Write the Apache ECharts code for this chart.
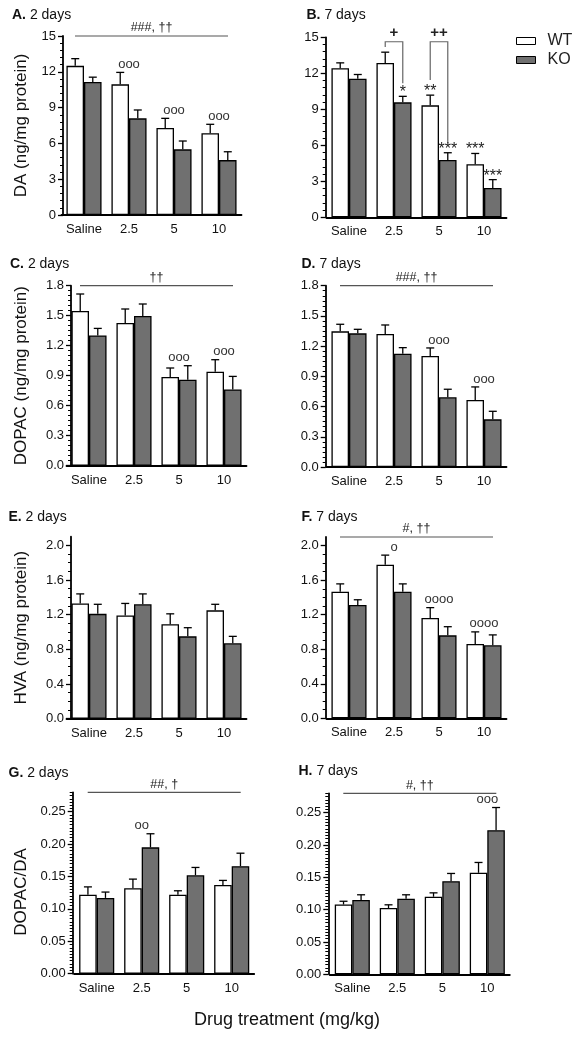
<!DOCTYPE html>
<html><head><meta charset="utf-8">
<script src="https://cdn.jsdelivr.net/npm/echarts@6/dist/echarts.min.js"></script>
<style>html,body{margin:0;padding:0;background:#fff}#c{width:574px;height:1040px}</style>
</head><body><div id="c"></div>
<script>
// ---------- data ----------
const categories = ['Saline', '2.5', '5', '10'];
const groupNames = ['WT', 'KO'];

// A. DA, 2 days
const daWT2 = [12.5, 10.95, 7.3, 6.85];
const daWT2Err = [0.6, 1.0, 0.8, 0.75];
const daKO2 = [11.15, 8.1, 5.5, 4.6];
const daKO2Err = [0.4, 0.7, 0.7, 0.7];
// B. DA, 7 days
const daWT7 = [12.42, 12.86, 9.33, 4.42];
const daWT7Err = [0.45, 0.9, 0.85, 0.9];
const daKO7 = [11.55, 9.58, 4.78, 2.44];
const daKO7Err = [0.35, 0.5, 0.6, 0.7];
// C. DOPAC, 2 days
const dopacWT2 = [1.547, 1.427, 0.887, 0.94];
const dopacWT2Err = [0.17, 0.14, 0.09, 0.12];
const dopacKO2 = [1.303, 1.497, 0.86, 0.763];
const dopacKO2Err = [0.07, 0.12, 0.14, 0.13];
// D. DOPAC, 7 days
const dopacWT7 = [1.347, 1.32, 1.102, 0.665];
const dopacWT7Err = [0.07, 0.09, 0.08, 0.13];
const dopacKO7 = [1.327, 1.125, 0.692, 0.473];
const dopacKO7Err = [0.04, 0.06, 0.08, 0.08];
// E. HVA, 2 days
const hvaWT2 = [1.33, 1.19, 1.09, 1.25];
const hvaWT2Err = [0.11, 0.14, 0.12, 0.07];
const hvaKO2 = [1.21, 1.32, 0.95, 0.87];
const hvaKO2Err = [0.11, 0.12, 0.10, 0.08];
// F. HVA, 7 days
const hvaWT7 = [1.467, 1.78, 1.162, 0.861];
const hvaWT7Err = [0.09, 0.11, 0.12, 0.14];
const hvaKO7 = [1.313, 1.467, 0.961, 0.846];
const hvaKO7Err = [0.06, 0.09, 0.10, 0.12];
// G. DOPAC/DA, 2 days
const ratioWT2 = [0.122, 0.132, 0.122, 0.137];
const ratioWT2Err = [0.012, 0.014, 0.006, 0.007];
const ratioKO2 = [0.117, 0.195, 0.152, 0.166];
const ratioKO2Err = [0.009, 0.021, 0.012, 0.020];
// H. DOPAC/DA, 7 days
const ratioWT7 = [0.108, 0.1025, 0.120, 0.157];
const ratioWT7Err = [0.005, 0.005, 0.006, 0.016];
const ratioKO7 = [0.115, 0.117, 0.144, 0.223];
const ratioKO7Err = [0.008, 0.006, 0.012, 0.035];

// tick labels
const ticksDA = [0, 3, 6, 9, 12, 15];
const ticksDOPAC = [0, 0.3, 0.6, 0.9, 1.2, 1.5, 1.8];
const ticksHVA = [0, 0.4, 0.8, 1.2, 1.6, 2.0];
const ticksRatio = [0, 0.05, 0.10, 0.15, 0.20, 0.25];

// annotations
const circlesA = ['', 'ooo', 'ooo', 'ooo'];
const circlesC = ['', '', 'ooo', 'ooo'];
const circlesD = ['', '', 'ooo', 'ooo'];
const circlesF = ['', 'o', 'oooo', 'oooo'];
const circlesG = ['', 'oo', '', ''];
const circlesH = ['', '', '', 'ooo'];
const starsWT7 = ['', '', '**', '***'];
const starsKO7 = ['', '*', '***', '***'];
const bracketLabels = ['+', '++'];
const bracketCats = [1, 2];
const bracketTop = [14.63, 14.63];
const bracketLeftEnd = [14.2, 11.44];
const bracketRightEnd = [11.17, 6.17];
const topNotes = ['###, ††', '', '††', '###, ††', '', '#, ††', '##, †', '#, ††'];

// ---------- layout ----------
const FONT = '"Liberation Sans", Arial, Helvetica, sans-serif';
const CAT_GAP = 0.22;
const CAP = 4;

const panels = [
  {letter: 'A.', days: '2 days', name: 'DA (ng/mg protein)', wt: daWT2, wtErr: daWT2Err, ko: daKO2, koErr: daKO2Err,
   ticks: ticksDA, max: 15, interval: 3, minor: 5, dec: 0, left: 61.5, top: 36, height: 179, axisX: 63, nameGap: 33,
   circles: circlesA, note: topNotes[0], tx: 12, ty: 8},
  {letter: 'B.', days: '7 days', name: '', wt: daWT7, wtErr: daWT7Err, ko: daKO7, koErr: daKO7Err,
   ticks: ticksDA, max: 15, interval: 3, minor: 5, dec: 0, left: 326.5, top: 37.3, height: 180, axisX: 325.7, nameGap: 30,
   starsWT: starsWT7, starsKO: starsKO7, brackets: true, note: topNotes[1], tx: 306.5, ty: 8},
  {letter: 'C.', days: '2 days', name: 'DOPAC (ng/mg protein)', wt: dopacWT2, wtErr: dopacWT2Err, ko: dopacKO2, koErr: dopacKO2Err,
   ticks: ticksDOPAC, max: 1.8, interval: 0.3, minor: 6, dec: 1, left: 66.5, top: 285.7, height: 180, axisX: 71, nameGap: 41,
   circles: circlesC, note: topNotes[2], tx: 10, ty: 257},
  {letter: 'D.', days: '7 days', name: '', wt: dopacWT7, wtErr: dopacWT7Err, ko: dopacKO7, koErr: dopacKO7Err,
   ticks: ticksDOPAC, max: 1.8, interval: 0.3, minor: 6, dec: 1, left: 326.5, top: 285.7, height: 181.3, axisX: 325.7, nameGap: 30,
   circles: circlesD, note: topNotes[3], tx: 301.5, ty: 257},
  {letter: 'E.', days: '2 days', name: 'HVA (ng/mg protein)', wt: hvaWT2, wtErr: hvaWT2Err, ko: hvaKO2, koErr: hvaKO2Err,
   ticks: ticksHVA, max: 2.1, interval: 0.4, minor: 4, dec: 1, left: 66.5, top: 536.7, height: 182, axisX: 71, nameGap: 41,
   note: topNotes[4], tx: 8.5, ty: 510},
  {letter: 'F.', days: '7 days', name: '', wt: hvaWT7, wtErr: hvaWT7Err, ko: hvaKO7, koErr: hvaKO7Err,
   ticks: ticksHVA, max: 2.1, interval: 0.4, minor: 4, dec: 1, left: 326.5, top: 537, height: 181.3, axisX: 325.7, nameGap: 30,
   circles: circlesF, note: topNotes[5], tx: 301.5, ty: 510},
  {letter: 'G.', days: '2 days', name: 'DOPAC/DA', wt: ratioWT2, wtErr: ratioWT2Err, ko: ratioKO2, koErr: ratioKO2Err,
   ticks: ticksRatio, max: 0.28, interval: 0.05, minor: 10, dec: 2, left: 74.2, top: 792.3, height: 181.4, axisX: 72.7, nameGap: 43,
   namePad: [0, 18, 0, 0], circles: circlesG, note: topNotes[6], tx: 8.5, ty: 766},
  {letter: 'H.', days: '7 days', name: '', wt: ratioWT7, wtErr: ratioWT7Err, ko: ratioKO7, koErr: ratioKO7Err,
   ticks: ticksRatio, max: 0.28, interval: 0.05, minor: 10, dec: 2, left: 329.8, top: 793.3, height: 181, axisX: 328.3, nameGap: 30,
   circles: circlesH, note: topNotes[7], tx: 298.5, ty: 764}
];

function makeRender(p) {
  return function (params, api) {
    const i = api.value(0);
    const wt = api.value(1), wtE = api.value(2), ko = api.value(3), koE = api.value(4);
    const base = api.coord([i, 0]);
    const band = api.size([1, 0])[0];
    const bw = band * (1 - CAT_GAP) / 2;
    const xw = base[0] - bw / 2, xk = base[0] + bw / 2;
    const yw0 = api.coord([i, wt])[1], yw1 = api.coord([i, wt + wtE])[1];
    const yk0 = api.coord([i, ko])[1], yk1 = api.coord([i, ko + koE])[1];
    const ls = {stroke: '#000', lineWidth: 1.3};
    const ch = [
      {type: 'line', shape: {x1: xw, y1: yw0, x2: xw, y2: yw1}, style: ls},
      {type: 'line', shape: {x1: xw - CAP, y1: yw1, x2: xw + CAP, y2: yw1}, style: ls},
      {type: 'line', shape: {x1: xk, y1: yk0, x2: xk, y2: yk1}, style: ls},
      {type: 'line', shape: {x1: xk - CAP, y1: yk1, x2: xk + CAP, y2: yk1}, style: ls}
    ];
    const circ = p.circles ? p.circles[i] : '';
    if (circ) {
      ch.push({type: 'text', x: base[0], y: Math.min(yw1, yk1) - 8,
        style: {text: circ, fontSize: 13, fontFamily: FONT, fill: '#333', align: 'center', verticalAlign: 'middle'}});
    }
    if (p.starsWT && p.starsWT[i]) {
      ch.push({type: 'text', x: xw, y: yw1 - 3.5,
        style: {text: p.starsWT[i], fontSize: 16, fontFamily: FONT, fill: '#222', align: 'center', verticalAlign: 'middle'}});
    }
    if (p.starsKO && p.starsKO[i]) {
      ch.push({type: 'text', x: xk, y: yk1 - 3.5,
        style: {text: p.starsKO[i], fontSize: 16, fontFamily: FONT, fill: '#222', align: 'center', verticalAlign: 'middle'}});
    }
    if (params.dataIndex === 0) {
      const yTop = api.coord([0, p.max])[1];
      if (p.note) {
        ch.push({type: 'line', shape: {x1: base[0] - 0.2 * band, y1: yTop, x2: base[0] + 3.2 * band, y2: yTop},
          style: {stroke: '#555', lineWidth: 1.2}});
        ch.push({type: 'text', x: base[0] + 1.5 * band, y: yTop - 1.5,
          style: {text: p.note, fontSize: 12.5, fontFamily: FONT, fill: '#222', align: 'center', verticalAlign: 'bottom'}});
      }
      if (p.brackets) {
        for (let b = 0; b < bracketLabels.length; b++) {
          const xc = base[0] + bracketCats[b] * band;
          const xL = xc - bw / 2, xR = xc + bw / 2;
          const yT = api.coord([0, bracketTop[b]])[1];
          const yL = api.coord([0, bracketLeftEnd[b]])[1];
          const yR = api.coord([0, bracketRightEnd[b]])[1];
          ch.push({type: 'polyline', shape: {points: [[xL, yL], [xL, yT], [xR, yT], [xR, yR]]},
            style: {stroke: '#666', lineWidth: 1.2, fill: null}});
          ch.push({type: 'text', x: xc, y: yT - 8.5,
            style: {text: bracketLabels[b], fontSize: 15, fontWeight: 'bold', fontFamily: FONT, fill: '#222', align: 'center', verticalAlign: 'middle'}});
        }
      }
    }
    return {type: 'group', children: ch};
  };
}

const grid = [], xAxis = [], yAxis = [], series = [], title = [];
panels.forEach((p, k) => {
  grid.push({left: p.left, top: p.top, width: 180, height: p.height, containLabel: false, outerBoundsMode: 'none'});
  xAxis.push({
    type: 'category', gridIndex: k, data: categories,
    axisLine: {lineStyle: {color: '#000', width: 1.8}},
    axisTick: {alignWithLabel: true, interval: 0, length: 4, lineStyle: {color: '#000', width: 1.3}},
    axisLabel: {interval: 0, fontSize: 13, color: '#111', margin: 8, fontFamily: FONT}
  });
  yAxis.push({
    type: 'value', gridIndex: k, min: 0, max: p.max, interval: p.interval,
    offset: p.left - p.axisX,
    axisLine: {show: true, lineStyle: {color: '#000', width: 1.8}},
    axisTick: {show: true, length: 5, customValues: p.ticks, lineStyle: {color: '#000', width: 1.3}},
    minorTick: {show: true, splitNumber: p.minor, length: 3, lineStyle: {color: '#000', width: 1}},
    splitLine: {show: false}, minorSplitLine: {show: false},
    axisLabel: {fontSize: 13, color: '#111', margin: 7, fontFamily: FONT, customValues: p.ticks,
      formatter: v => Number(v).toFixed(p.dec)},
    name: p.name, nameLocation: 'middle', nameGap: p.nameGap,
    nameTextStyle: {fontSize: 17, color: '#111', fontFamily: FONT, padding: p.namePad || 0}
  });
  series.push({
    type: 'bar', name: groupNames[0], xAxisIndex: k, yAxisIndex: k, data: p.wt,
    barGap: '0%', barCategoryGap: (CAT_GAP * 100) + '%', silent: true,
    itemStyle: {color: '#ffffff', borderColor: '#000', borderWidth: 1.3}
  });
  series.push({
    type: 'bar', name: groupNames[1], xAxisIndex: k, yAxisIndex: k, data: p.ko,
    barGap: '0%', barCategoryGap: (CAT_GAP * 100) + '%', silent: true,
    itemStyle: {color: '#707070', borderColor: '#000', borderWidth: 1.3}
  });
  series.push({
    type: 'custom', xAxisIndex: k, yAxisIndex: k, silent: true, z: 10, clip: false,
    data: categories.map((c, i) => [i, p.wt[i], p.wtErr[i], p.ko[i], p.koErr[i]]),
    encode: {x: 0, y: 1},
    renderItem: makeRender(p)
  });
  title.push({
    text: '{b|' + p.letter + '} ' + p.days, left: p.tx, top: p.ty, padding: 0,
    textStyle: {fontSize: 14, fontWeight: 'normal', color: '#111', fontFamily: FONT,
      rich: {b: {fontSize: 14, fontWeight: 'bold', color: '#111', fontFamily: FONT}}}
  });
});

const chart = echarts.init(document.getElementById('c'), null, {renderer: 'canvas'});
chart.setOption({
  animation: false,
  backgroundColor: '#fff',
  textStyle: {fontFamily: FONT},
  title: title,
  legend: {
    data: groupNames, orient: 'vertical', left: 511, top: 28, itemWidth: 19, itemHeight: 7, itemGap: 3,
    icon: 'rect', selectedMode: false,
    itemStyle: {borderWidth: 1},
    textStyle: {fontSize: 16, color: '#222', fontFamily: FONT, padding: [0, 0, 0, 7]}
  },
  grid: grid, xAxis: xAxis, yAxis: yAxis, series: series,
  graphic: [{
    type: 'text', left: 'center', top: 1011,
    style: {text: 'Drug treatment (mg/kg)', fontSize: 18, fontFamily: FONT, fill: '#111'}
  }]
});
</script></body></html>
